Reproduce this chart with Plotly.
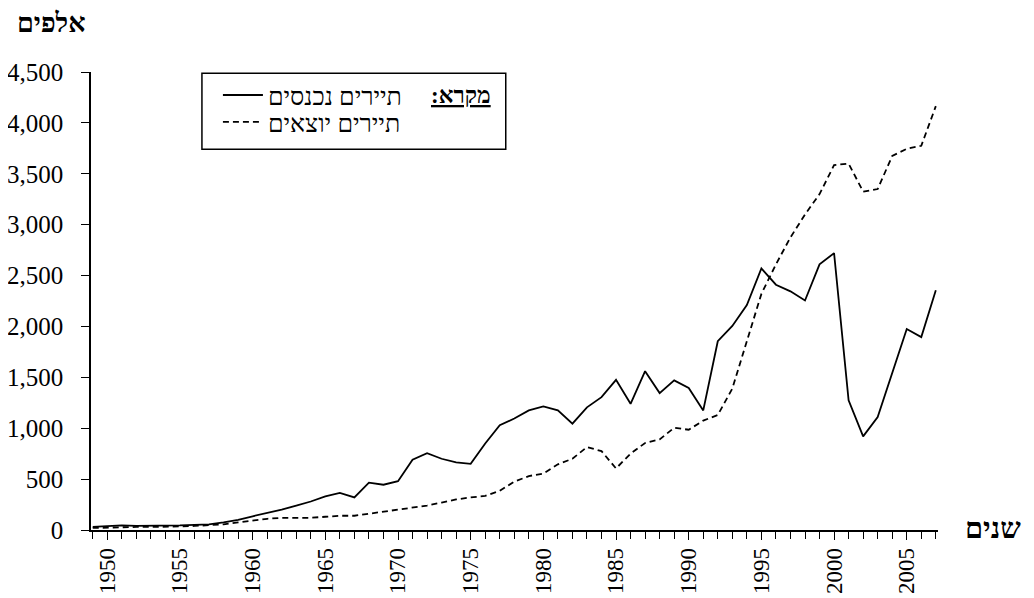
import plotly.graph_objects as go

years = list(range(1949, 2008))
incoming = [30, 40, 45, 40, 40, 40, 45, 50, 55, 75,
            100, 135, 165, 200, 240, 280, 330, 365, 320, 465,
            445, 480, 690, 755, 700, 665, 650, 850, 1030, 1095,
            1175, 1215, 1175, 1045, 1205, 1305, 1475, 1240, 1560, 1345,
            1470, 1395, 1175, 1855, 2005, 2210, 2570, 2410, 2345, 2255,
            2610, 2720, 1275, 920, 1110, 1550, 1975, 1895, 2355]
outgoing = [20, 25, 30, 30, 30, 30, 35, 40, 45, 55,
            75, 95, 110, 120, 120, 120, 130, 140, 140, 160,
            180, 195, 215, 240, 270, 300, 320, 335, 385, 475,
            530, 555, 645, 700, 815, 775, 605, 750, 855, 890,
            1005, 985, 1075, 1130, 1390, 1860, 2320, 2610, 2875, 3100,
            3300, 3585, 3600, 3325, 3350, 3675, 3745, 3775, 4165]
name_in = "תיירים נכנסים"
name_out = "תיירים יוצאים"
y_ticks = [0, 500, 1000, 1500, 2000, 2500, 3000, 3500, 4000, 4500]

SERIF = "Liberation Serif, Times New Roman, serif"

# page body has an 8px margin, so the figure is drawn 8px right/down
OFF = 8
W, H = 1034 - OFF, 598 - OFF
X0, X1, Y0, Y1 = 91.0, 938.5, 71.7, 530.5   # plot area in page pixels

def px(xp):
    return (xp - X0) / (X1 - X0)

def py(yp):
    return (Y1 - yp) / (Y1 - Y0)

fig = go.Figure()
fig.add_trace(go.Scatter(x=years, y=incoming, mode="lines", name=name_in,
                         line=dict(color="black", width=1.8), legend="legend"))
fig.add_trace(go.Scatter(x=years, y=outgoing, mode="lines", name=name_out,
                         line=dict(color="black", width=1.8, dash="6px,4px"),
                         legend="legend2"))

leg_common = dict(xanchor="left", yanchor="middle", bgcolor="rgba(0,0,0,0)",
                  borderwidth=0, font=dict(family=SERIF, size=25, color="black"),
                  itemwidth=40)

fig.update_layout(
    width=W, height=H,
    margin=dict(l=X0 - OFF, r=W - (X1 - OFF), t=Y0 - OFF, b=H - (Y1 - OFF),
                autoexpand=False),
    paper_bgcolor="white", plot_bgcolor="white",
    font=dict(family=SERIF, size=21, color="black"),
    showlegend=True,
    legend=dict(x=px(218), y=py(95), **leg_common),
    legend2=dict(x=px(218), y=py(122), **leg_common),
    xaxis=dict(range=[1948.88, 2007.15], showgrid=False, zeroline=False,
               automargin=False,
               showline=True, linecolor="black", linewidth=1.5,
               tick0=1950, dtick=5, ticks="outside", ticklen=8, tickwidth=1.2,
               tickcolor="black", tickangle=-90, ticklabelstandoff=-1,
               tickfont=dict(family=SERIF, size=23),
               minor=dict(dtick=1, ticks="outside", ticklen=7, tickwidth=1.2,
                          tickcolor="black", showgrid=False)),
    yaxis=dict(range=[0, 4500], showgrid=False, zeroline=False,
               automargin=False,
               showline=True, linecolor="black", linewidth=1.5,
               tickvals=y_ticks, tickformat=",d", ticks="outside", ticklen=8,
               tickwidth=1.2, tickcolor="black", ticklabelstandoff=13,
               tickfont=dict(family=SERIF, size=25)),
)

fig.add_shape(type="rect", xref="paper", yref="paper",
              x0=px(202), x1=px(506), y0=py(149), y1=py(73),
              line=dict(color="black", width=1.5), fillcolor="rgba(0,0,0,0)")

fig.add_annotation(text="<b><u>מקרא:</u></b>\u200f", xref="paper", yref="paper",
                   x=px(493), y=py(95), xanchor="right", yanchor="middle",
                   showarrow=False, font=dict(family=SERIF, size=23, color="black"))
fig.add_annotation(text="<b>אלפים</b>", xref="paper", yref="paper",
                   x=px(15), y=py(23), xanchor="left", yanchor="middle",
                   showarrow=False, font=dict(family=SERIF, size=27, color="black"))
fig.add_annotation(text="<b>שנים</b>", xref="paper", yref="paper",
                   x=px(964), y=py(528), xanchor="left", yanchor="middle",
                   showarrow=False, font=dict(family=SERIF, size=29, color="black"))

fig.write_html("out.html")
